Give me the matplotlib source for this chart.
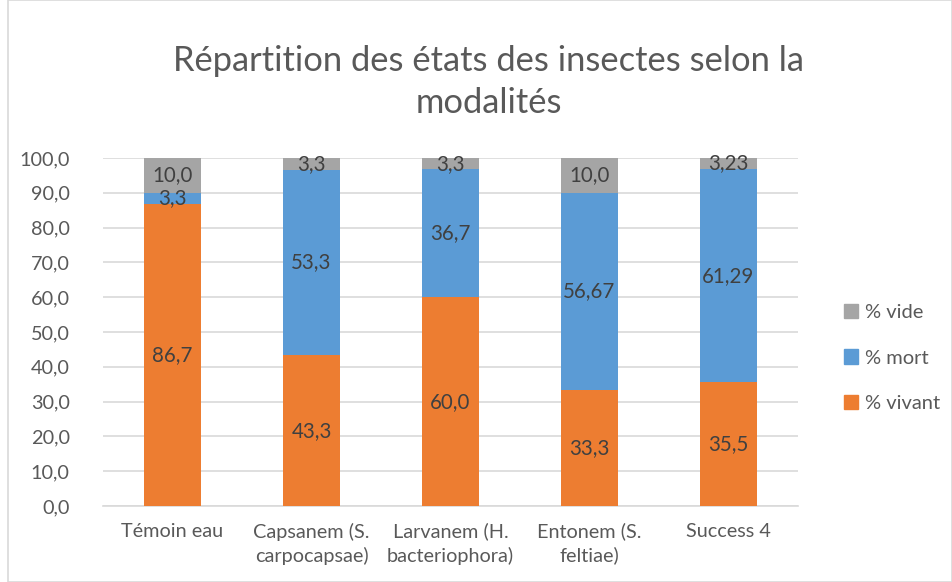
import matplotlib
matplotlib.use("Agg")
import matplotlib.pyplot as plt
import numpy as np
from matplotlib.patches import Rectangle, Patch

categories = ["Témoin eau", "Capsanem (S.\ncarpocapsae)", "Larvanem (H.\nbacteriophora)",
              "Entonem (S.\nfeltiae)", "Success 4"]
vivant = [86.7, 43.3, 60.0, 33.3, 35.5]
mort = [3.3, 53.3, 36.7, 56.67, 61.29]
vide = [10.0, 3.3, 3.3, 10.0, 3.23]
vivant_labels = ["86,7", "43,3", "60,0", "33,3", "35,5"]
mort_labels = ["3,3", "53,3", "36,7", "56,67", "61,29"]
vide_labels = ["10,0", "3,3", "3,3", "10,0", "3,23"]
yticks = [0, 10, 20, 30, 40, 50, 60, 70, 80, 90, 100]

plt.rcParams['font.family'] = ['Lato', 'DejaVu Sans']

c_viv = "#ED7D31"
c_mort = "#5B9BD5"
c_vide = "#A5A5A5"
txt = "#595959"
lab = "#404040"

fig = plt.figure(figsize=(9.53, 5.82), dpi=100)
fig.patches.append(Rectangle((8/953, 0.0), 1 - 9/953, 1.0, transform=fig.transFigure,
                             fill=False, edgecolor="#D9D9D9", linewidth=1.2))
ax = fig.add_axes([103/953, 1 - 506/582, 695/953, 348/582])

x = np.arange(len(categories))
w = 0.41
ax.bar(x, vivant, w, color=c_viv, zorder=3)
ax.bar(x, mort, w, bottom=vivant, color=c_mort, zorder=3)
bot2 = np.array(vivant) + np.array(mort)
ax.bar(x, vide, w, bottom=bot2, color=c_vide, zorder=3)

fs = 14.8
for i in range(len(categories)):
    ax.text(x[i], vivant[i] / 2, vivant_labels[i], ha="center", va="center", fontsize=fs, color=lab, zorder=4)
    ax.text(x[i], vivant[i] + mort[i] / 2, mort_labels[i], ha="center", va="center", fontsize=fs, color=lab, zorder=4)
    ax.text(x[i], bot2[i] + vide[i] / 2, vide_labels[i], ha="center", va="center", fontsize=fs, color=lab, zorder=4)

ax.set_xlim(-0.5, len(categories) - 0.5)
ax.set_ylim(0, 100)
ax.set_yticks(yticks)
ax.set_yticklabels([f"{v:.1f}".replace(".", ",") for v in yticks], fontsize=14.3, color=txt)
ax.set_xticks(x)
ax.set_xticklabels(categories, fontsize=14.3, color=txt, linespacing=1.4)
ax.tick_params(axis="both", length=0)
ax.tick_params(axis="y", pad=24)
ax.tick_params(axis="x", pad=12)
ax.grid(axis="y", color="#D9D9D9", linewidth=1.2, zorder=0)
for s in ["top", "right", "left"]:
    ax.spines[s].set_visible(False)
ax.spines["bottom"].set_color("#D9D9D9")
ax.spines["bottom"].set_linewidth(1.2)

fig.text(489/953, 1 - 82/582, "Répartition des états des insectes selon la\nmodalités",
         ha="center", va="center", fontsize=24.8, color=txt, linespacing=1.4)

handles = [Patch(color=c_vide), Patch(color=c_mort), Patch(color=c_viv)]
fig.legend(handles, ["% vide", "% mort", "% vivant"], loc="center left",
           bbox_to_anchor=(826/953, 1 - 358/582), frameon=False, fontsize=14.5,
           labelcolor=txt, handlelength=0.7, handleheight=0.7, handletextpad=0.35,
           labelspacing=1.4)

fig.savefig("out.png", dpi=100)
